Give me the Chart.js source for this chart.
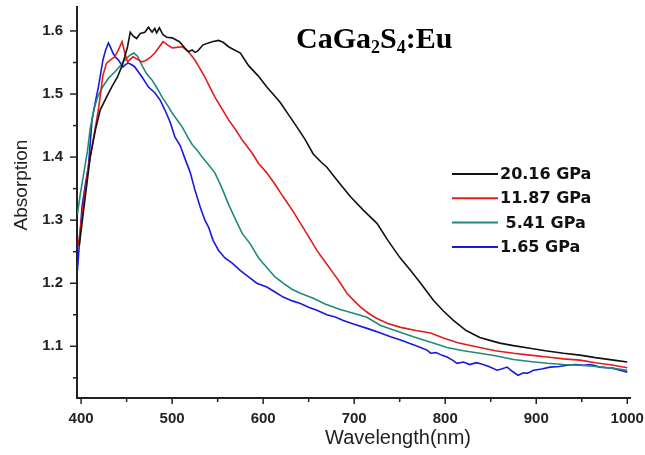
<!DOCTYPE html>
<html>
<head>
<meta charset="utf-8">
<script src="https://cdn.jsdelivr.net/npm/chart.js@4/dist/chart.umd.min.js"></script>
<style>
  body { margin: 0; background: #fff; }
  #wrap { width: 645px; height: 455px; }
</style>
</head>
<body>
<div id="wrap"><canvas id="myChart" width="645" height="455"></canvas></div>
<script>
// данные (длина волны в нм, поглощение)
const wl20 = [398, 404, 410, 416, 421, 428, 434, 440, 445, 448, 451, 454, 457, 461, 465, 470, 474, 478, 481, 483, 486, 490, 494, 500, 508, 514, 518, 522, 525, 528, 534, 544, 551, 556, 562, 567, 575, 584, 595, 604, 612, 619, 628, 637, 646, 655, 663, 670, 683, 696, 710, 725, 737, 750, 762, 773, 787, 798, 809, 823, 838, 850, 860, 875, 893, 910, 930, 948, 965, 985, 1000];
const abs20 = [1.26, 1.33, 1.40, 1.445, 1.475, 1.495, 1.512, 1.527, 1.545, 1.559, 1.575, 1.598, 1.592, 1.588, 1.596, 1.598, 1.606, 1.598, 1.604, 1.597, 1.605, 1.594, 1.59, 1.589, 1.583, 1.573, 1.567, 1.57, 1.566, 1.568, 1.578, 1.583, 1.585, 1.582, 1.575, 1.571, 1.565, 1.545, 1.528, 1.511, 1.498, 1.486, 1.467, 1.448, 1.428, 1.405, 1.393, 1.384, 1.36, 1.337, 1.316, 1.295, 1.268, 1.241, 1.22, 1.2, 1.173, 1.156, 1.141, 1.125, 1.114, 1.109, 1.105, 1.101, 1.097, 1.093, 1.089, 1.086, 1.082, 1.078, 1.075];

const wl11 = [397, 402, 408, 412, 419, 424, 428, 433, 437, 441, 445, 448, 451, 457, 462, 467, 472, 476, 481, 486, 490, 495, 500, 505, 511, 518, 525, 530, 536, 541, 547, 555, 562, 570, 577, 588, 595, 604, 613, 622, 632, 641, 650, 659, 668, 677, 685, 692, 700, 707, 716, 725, 737, 751, 768, 784, 798, 813, 825, 838, 855, 875, 893, 912, 930, 948, 965, 985, 1000];
const abs11 = [1.26, 1.32, 1.385, 1.416, 1.475, 1.53, 1.549, 1.555, 1.559, 1.57, 1.583, 1.565, 1.551, 1.559, 1.555, 1.551, 1.554, 1.558, 1.565, 1.575, 1.583, 1.578, 1.573, 1.574, 1.575, 1.567, 1.554, 1.542, 1.527, 1.512, 1.495, 1.476, 1.459, 1.443, 1.427, 1.406, 1.39, 1.375, 1.357, 1.337, 1.316, 1.295, 1.274, 1.252, 1.234, 1.216, 1.2, 1.184, 1.172, 1.162, 1.152, 1.144, 1.136, 1.13, 1.125, 1.121, 1.113, 1.106, 1.102, 1.098, 1.093, 1.089, 1.086, 1.083, 1.08, 1.078, 1.074, 1.07, 1.066];

const wl5 = [396, 399, 403, 407, 410, 414, 418, 424, 430, 437, 443, 448, 454, 458, 462, 467, 472, 478, 484, 489, 495, 500, 506, 511, 517, 522, 528, 533, 540, 547, 555, 562, 570, 577, 586, 595, 604, 613, 622, 632, 641, 655, 668, 683, 700, 714, 729, 745, 765, 785, 802, 820, 838, 855, 875, 893, 912, 930, 948, 965, 985, 1000];
const abs5 = [1.31, 1.34, 1.375, 1.41, 1.445, 1.475, 1.495, 1.512, 1.525, 1.535, 1.545, 1.554, 1.562, 1.565, 1.56, 1.545, 1.532, 1.522, 1.508, 1.495, 1.482, 1.47, 1.458, 1.448, 1.432, 1.42, 1.41, 1.4, 1.388, 1.375, 1.35, 1.325, 1.3, 1.279, 1.262, 1.24, 1.225, 1.21, 1.2, 1.19, 1.184, 1.176, 1.167, 1.159, 1.152, 1.146, 1.133, 1.125, 1.115, 1.106, 1.098, 1.093, 1.089, 1.085, 1.079, 1.076, 1.073, 1.071, 1.07, 1.068, 1.065, 1.062];

const wl1 = [396, 401, 405, 408, 412, 416, 419, 424, 427, 430, 433, 435, 438, 441, 446, 449, 452, 456, 459, 463, 467, 474, 481, 487, 492, 498, 503, 509, 514, 520, 525, 531, 536, 540, 545, 551, 558, 566, 575, 584, 593, 604, 613, 622, 632, 641, 650, 659, 670, 680, 688, 700, 715, 729, 740, 751, 762, 773, 780, 784, 790, 796, 802, 808, 813, 820, 827, 834, 840, 848, 857, 862, 868, 874, 880, 886, 890, 897, 906, 915, 925, 934, 943, 952, 960, 970, 978, 985, 992, 1000];
const abs1 = [1.22, 1.321, 1.36, 1.384, 1.459, 1.49, 1.511, 1.554, 1.57, 1.581, 1.572, 1.565, 1.558, 1.554, 1.543, 1.547, 1.549, 1.546, 1.543, 1.535, 1.527, 1.511, 1.502, 1.49, 1.475, 1.455, 1.432, 1.418, 1.398, 1.375, 1.348, 1.32, 1.3, 1.289, 1.268, 1.252, 1.24, 1.232, 1.22, 1.21, 1.2, 1.194, 1.186, 1.178, 1.172, 1.168, 1.162, 1.157, 1.15, 1.146, 1.141, 1.135, 1.128, 1.121, 1.115, 1.11, 1.104, 1.098, 1.094, 1.089, 1.09, 1.086, 1.083, 1.078, 1.073, 1.075, 1.071, 1.074, 1.072, 1.068, 1.062, 1.064, 1.067, 1.06, 1.054, 1.058, 1.057, 1.062, 1.064, 1.067, 1.068, 1.07, 1.071, 1.07, 1.071, 1.067, 1.066, 1.065, 1.062, 1.059];

const seriesLabels = ['20.16 GPa', '11.87 GPa', ' 5.41 GPa', '1.65 GPa'];
const seriesColors = ['#111111', '#e41b1b', '#1f8a7a', '#1919dc'];

const xTickValues = [400, 450, 500, 550, 600, 650, 700, 750, 800, 850, 900, 950, 1000];
const yTickValues = [1.05, 1.1, 1.15, 1.2, 1.25, 1.3, 1.35, 1.4, 1.45, 1.5, 1.55, 1.6];

const chartTitle = ['CaGa', '2', 'S', '4', ':Eu'];
const xTitle = 'Wavelength(nm)';
const yTitle = 'Absorption';

function toPoints(xs, ys) {
    return xs.map((x, i) => ({ x: x, y: ys[i] }));
}

function isMajor(v, step) {
    return Math.abs(Math.round(v / step) * step - v) < 1e-6;
}

// убираем автоматические отступы под крайние подписи
function noAutoPadding(scale) {
    scale.paddingTop = 0;
    scale.paddingBottom = 0;
    scale.paddingLeft = 0;
    scale.paddingRight = 0;
}

// подписи, легенда и засечки осей
const decorPlugin = {
    id: 'decor',
    afterDraw(chart) {
        const ctx = chart.ctx;
        const xs = chart.scales.x;
        const ys = chart.scales.y;
        const area = chart.chartArea;
        ctx.save();
        ctx.strokeStyle = '#222';
        ctx.lineWidth = 1.5;

        // засечки по X
        xs.ticks.forEach(t => {
            const px = xs.getPixelForValue(t.value);
            const len = isMajor(t.value, 100) ? 6 : 4;
            ctx.beginPath();
            ctx.moveTo(px, area.bottom);
            ctx.lineTo(px, area.bottom + len);
            ctx.stroke();
        });
        // засечки по Y
        ys.ticks.forEach(t => {
            const py = ys.getPixelForValue(t.value);
            const len = isMajor(t.value, 0.1) ? 7 : 4;
            ctx.beginPath();
            ctx.moveTo(area.left, py);
            ctx.lineTo(area.left - len, py);
            ctx.stroke();
        });

        // названия осей
        ctx.fillStyle = '#222';
        ctx.font = '20px "Liberation Sans", Arial, sans-serif';
        ctx.textAlign = 'center';
        ctx.textBaseline = 'middle';
        ctx.fillText(xTitle, 398, 438);

        ctx.save();
        ctx.translate(22, 185);
        ctx.rotate(-Math.PI / 2);
        ctx.font = '19px "Liberation Sans", Arial, sans-serif';
        ctx.fillText(yTitle, 0, 0);
        ctx.restore();

        // заголовок с индексами
        ctx.fillStyle = '#000';
        ctx.textAlign = 'left';
        ctx.textBaseline = 'alphabetic';
        let x = 296;
        chartTitle.forEach((part, i) => {
            const sub = i % 2 === 1;
            ctx.font = sub ? 'bold 18px "Liberation Serif", "Times New Roman", serif'
                           : 'bold 30px "Liberation Serif", "Times New Roman", serif';
            ctx.fillText(part, x, sub ? 53 : 48);
            x += ctx.measureText(part).width;
        });

        // легенда
        ctx.font = 'bold 16px "DejaVu Sans", Verdana, sans-serif';
        ctx.textBaseline = 'middle';
        chart.data.datasets.forEach((ds, i) => {
            const ry = 174 + i * 24.3;
            ctx.strokeStyle = ds.borderColor;
            ctx.lineWidth = 2;
            ctx.beginPath();
            ctx.moveTo(452, ry);
            ctx.lineTo(498, ry);
            ctx.stroke();
            ctx.fillStyle = '#111';
            ctx.fillText(ds.label, 500, ry + 1);
        });
        ctx.restore();
    }
};

const ctx = document.getElementById('myChart').getContext('2d');
const allX = [wl20, wl11, wl5, wl1];
const allY = [abs20, abs11, abs5, abs1];

new Chart(ctx, {
    type: 'line',
    data: {
        datasets: seriesLabels.map((label, i) => ({
            label: label,
            data: toPoints(allX[i], allY[i]),
            borderColor: seriesColors[i],
            borderWidth: 1.6,
            pointRadius: 0,
            tension: 0,
            fill: false
        }))
    },
    options: {
        responsive: false,
        animation: false,
        layout: { padding: { top: 7, right: 15, left: 0, bottom: 0 } },
        plugins: {
            legend: { display: false },
            tooltip: { enabled: false },
            title: { display: false }
        },
        scales: {
            x: {
                type: 'linear',
                min: 395.5,
                max: 1003,
                afterBuildTicks: scale => { scale.ticks = xTickValues.map(v => ({ value: v })); },
                afterFit: scale => { scale.height = 57; noAutoPadding(scale); },
                grid: { display: false, drawTicks: false },
                border: { display: true, color: '#222', width: 2 },
                ticks: {
                    autoSkip: false,
                    maxRotation: 0,
                    padding: 12,
                    color: '#222',
                    font: { family: '"Liberation Sans", Arial, sans-serif', size: 15, weight: 'bold' },
                    callback: v => isMajor(v, 100) ? String(v) : ''
                }
            },
            y: {
                type: 'linear',
                min: 1.018,
                max: 1.638,
                afterBuildTicks: scale => { scale.ticks = yTickValues.map(v => ({ value: v })); },
                afterFit: scale => { scale.width = 77; noAutoPadding(scale); },
                grid: { display: false, drawTicks: false },
                border: { display: true, color: '#222', width: 2 },
                ticks: {
                    autoSkip: false,
                    padding: 14,
                    color: '#222',
                    font: { family: '"Liberation Sans", Arial, sans-serif', size: 15, weight: 'bold' },
                    callback: v => isMajor(v, 0.1) ? v.toFixed(1) : ''
                }
            }
        }
    },
    plugins: [decorPlugin]
});
</script>
</body>
</html>
